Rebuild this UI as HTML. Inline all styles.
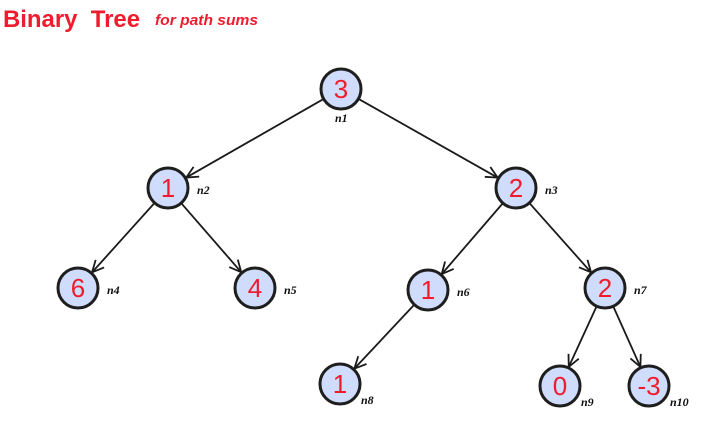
<!DOCTYPE html>
<html><head><meta charset="utf-8"><style>
body{margin:0;background:#fff;width:704px;height:440px;overflow:hidden}
</style></head><body>
<svg id="s" width="704" height="440" xmlns="http://www.w3.org/2000/svg">
<text x="3" y="27" font-family="Liberation Sans, sans-serif" font-size="24" font-weight="bold" fill="#ee1c2e" textLength="137" lengthAdjust="spacingAndGlyphs">Binary&#160; Tree</text>
<text x="155" y="25" font-family="Liberation Sans, sans-serif" font-size="15" font-weight="bold" font-style="italic" fill="#ee1c2e" textLength="103" lengthAdjust="spacingAndGlyphs">for path sums</text>
</svg>
<script>
var N={n1:[341,89,'3'],n2:[168,188,'1'],n3:[516,188,'2'],n4:[78,288,'6'],n5:[255,288,'4'],n6:[428,290,'1'],n7:[605,288,'2'],n8:[340,384,'1'],n9:[560,386,'0'],n10:[649,386,'-3']};
var E=[['n1','n2'],['n1','n3'],['n2','n4'],['n2','n5'],['n3','n6'],['n3','n7'],['n6','n8'],['n7','n9'],['n7','n10']];
var R=20,h='';
E.forEach(function(e){var a=N[e[0]],b=N[e[1]];var dx=b[0]-a[0],dy=b[1]-a[1],L=Math.hypot(dx,dy),ux=dx/L,uy=dy/L;
var x1=a[0]+ux*(R+1),y1=a[1]+uy*(R+1),x2=b[0]-ux*(R+1),y2=b[1]-uy*(R+1);
h+='<line x1="'+x1+'" y1="'+y1+'" x2="'+x2+'" y2="'+y2+'" stroke="#1a1a1a" stroke-width="1.8"/>';
var ang=Math.atan2(dy,dx),s=13,w=0.45;
var p1=[x2-s*Math.cos(ang-w),y2-s*Math.sin(ang-w)],p2=[x2-s*Math.cos(ang+w),y2-s*Math.sin(ang+w)];
h+='<polyline points="'+p1+' '+x2+','+y2+' '+p2+'" fill="none" stroke="#1a1a1a" stroke-width="1.8"/>';});
for(var k in N){var n=N[k];
h+='<circle cx="'+n[0]+'" cy="'+n[1]+'" r="'+R+'" fill="#cfdcfb" stroke="#1e1e1e" stroke-width="3"/>';
h+='<text x="'+n[0]+'" y="'+(n[1]+9)+'" text-anchor="middle" font-family="Liberation Sans, sans-serif" font-size="26" fill="#ee1c2e">'+n[2]+'</text>';
var lx=k=='n1'?n[0]-6:n[0]+(k=='n8'||k=='n9'||k=='n10'?21:29),ly=k=='n1'?n[1]+33:(k=='n8'||k=='n9'||k=='n10')?n[1]+20:n[1]+6;
h+='<text x="'+lx+'" y="'+ly+'" font-family="Liberation Serif, serif" font-size="12" font-weight="bold" font-style="italic" fill="#111">'+k+'</text>';}
document.getElementById('s').insertAdjacentHTML('beforeend',h);
</script>
</body></html>
